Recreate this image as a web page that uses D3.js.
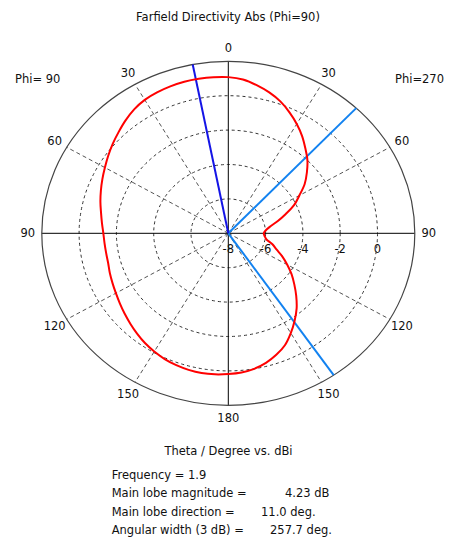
<!DOCTYPE html>
<html>
<head>
<meta charset="utf-8">
<script src="https://cdn.jsdelivr.net/npm/d3@7"></script>
<style>
  html, body { margin: 0; padding: 0; background: #fff; }
  svg text { font-family: "DejaVu Sans", Verdana, sans-serif; font-size: 11.5px; fill: #111; }
</style>
</head>
<body>
<svg id="chart" width="450" height="540"></svg>
<script>
// ---- data ----
const title = "Farfield Directivity Abs (Phi=90)";
const leftLabel = "Phi= 90";
const rightLabel = "Phi=270";
const axisTitle = "Theta / Degree vs. dBi";
const infoLabels = ["Frequency = 1.9", "Main lobe magnitude =", "Main lobe direction =", "Angular width (3 dB) ="];
const infoValues = ["", "4.23 dB", "11.0 deg.", "257.7 deg."];

const theta = [0,5,10,15,20,25,30,35,40,45,50,55,60,65,70,75,80,85,90,
               95,100,105,110,115,120,125,130,135,140,145,150,155,160,165,170,175,180];
// directivity (plot scale, dB) on the Phi=90 half (left)
const phi90 = [1.08,1.11,1.12,1.12,1.09,1.04,0.96,0.80,0.57,0.32,0.09,-0.14,-0.36,-0.55,-0.73,-0.90,-1.07,-1.20,-1.30,
               -1.34,-1.35,-1.33,-1.24,-1.15,-1.04,-0.90,-0.74,-0.57,-0.39,-0.21,-0.06,0.07,0.16,0.22,0.25,0.23,0.18];
// directivity on the Phi=270 half (right)
const phi270 = [1.08,0.98,0.75,0.48,0.16,-0.24,-0.66,-1.10,-1.57,-2.00,-2.50,-3.00,-3.60,-4.10,-4.72,-5.25,-5.72,-5.98,-6.10,
                -6.04,-5.92,-5.55,-5.25,-4.80,-4.35,-3.86,-3.38,-2.85,-2.30,-1.80,-1.30,-0.82,-0.48,-0.20,0.00,0.12,0.18];

const ringTicks = [-8, -6, -4, -2, 0];
const angleTicks = [0, 30, 60, 90, 120, 150, 180];
const spokeAngles = [30, 60, 120, 150];
const mainLobeDir = 11.0;          // Phi=90 side
const beamEdges = [-43.3, -145.6]; // signed angles (negative = Phi=270 side)

// ---- layout ----
const cx = 228.3, cy = 233.3, Rx = 186.5, Ry = 172;
const svg = d3.select("#chart");

const rX = d3.scaleLinear().domain([-8, 2]).range([0, Rx]).clamp(true);
const rY = d3.scaleLinear().domain([-8, 2]).range([0, Ry]).clamp(true);
const rad = d3.scaleLinear().domain([0, 180]).range([0, Math.PI]);

// signed angle: positive = Phi=90 (left), negative = Phi=270 (right)
const px = (a, v) => cx - Math.sin(rad(a)) * rX(v);
const py = (a, v) => cy - Math.cos(rad(a)) * rY(v);

const g = svg.append("g");

// dashed rings
g.selectAll("ellipse.ring").data(ringTicks.filter(d => d > -8)).enter()
  .append("ellipse")
  .attr("cx", cx).attr("cy", cy)
  .attr("rx", d => rX(d)).attr("ry", d => rY(d))
  .attr("fill", "none").attr("stroke", "#333").attr("stroke-width", 1)
  .attr("stroke-dasharray", "3,3");

// dashed spokes
const spokes = spokeAngles.flatMap(a => [a, -a]);
g.selectAll("line.spoke").data(spokes).enter()
  .append("line")
  .attr("x1", cx).attr("y1", cy)
  .attr("x2", d => px(d, 2)).attr("y2", d => py(d, 2))
  .attr("stroke", "#555").attr("stroke-width", 1)
  .attr("stroke-dasharray", "4,3");

// solid axes
g.append("line").attr("x1", px(90, 2)).attr("y1", cy).attr("x2", px(-90, 2)).attr("y2", cy)
  .attr("stroke", "#000").attr("stroke-width", 1);
g.append("line").attr("x1", cx).attr("y1", py(0, 2)).attr("x2", cx).attr("y2", py(180, 2))
  .attr("stroke", "#000").attr("stroke-width", 1);

// outer ellipse
g.append("ellipse").attr("cx", cx).attr("cy", cy).attr("rx", rX(2)).attr("ry", rY(2))
  .attr("fill", "none").attr("stroke", "#444").attr("stroke-width", 1.2);

// 3 dB beam edges
g.selectAll("line.beam").data(beamEdges).enter()
  .append("line")
  .attr("x1", cx).attr("y1", cy)
  .attr("x2", d => px(d, 2)).attr("y2", d => py(d, 2))
  .attr("stroke", "#1282f0").attr("stroke-width", 2);

// main lobe direction
g.append("line")
  .attr("x1", cx).attr("y1", cy)
  .attr("x2", px(mainLobeDir, 2)).attr("y2", py(mainLobeDir, 2))
  .attr("stroke", "#1414e6").attr("stroke-width", 2);

// pattern curve
const pts = theta.map((t, i) => [t, phi90[i]])
  .concat(theta.map((t, i) => [-t, phi270[i]]).slice(1, -1).reverse());
const line = d3.line()
  .x(d => px(d[0], d[1]))
  .y(d => py(d[0], d[1]))
  .curve(d3.curveCatmullRomClosed.alpha(0.5));
g.append("path").attr("d", line(pts))
  .attr("fill", "none").attr("stroke", "#ff0000").attr("stroke-width", 2);

// angle labels
const angLab = angleTicks.flatMap(a => (a === 0 || a === 180) ? [a] : [a, -a]);
g.selectAll("text.ang").data(angLab).enter()
  .append("text")
  .attr("x", d => cx - Math.sin(rad(d)) * (Rx + 14))
  .attr("y", d => cy - Math.cos(rad(d)) * (Ry + 13))
  .attr("dy", "0.36em")
  .attr("text-anchor", "middle")
  .text(d => Math.abs(d));

// radial labels
g.selectAll("text.rl").data(ringTicks).enter()
  .append("text")
  .attr("x", d => cx + rX(d))
  .attr("y", cy + 16)
  .attr("dy", "0.36em")
  .attr("text-anchor", "middle")
  .text(d => d);

// titles
svg.append("text").attr("x", 228).attr("y", 17).attr("dy", "0.36em")
  .attr("text-anchor", "middle").text(title);
svg.append("text").attr("x", 15).attr("y", 79).attr("dy", "0.36em").text(leftLabel);
svg.append("text").attr("x", 444).attr("y", 79).attr("dy", "0.36em")
  .attr("text-anchor", "end").text(rightLabel);
svg.append("text").attr("x", 228.5).attr("y", 451).attr("dy", "0.36em")
  .attr("text-anchor", "middle").text(axisTitle);

const valueX = [0, 285, 261, 270];
infoLabels.forEach((lab, i) => {
  const y = 475 + i * 18.35;
  svg.append("text").attr("x", 111.7).attr("y", y).attr("dy", "0.36em").text(lab);
  if (infoValues[i]) {
    svg.append("text").attr("x", valueX[i]).attr("y", y).attr("dy", "0.36em").text(infoValues[i]);
  }
});
</script>
</body>
</html>
